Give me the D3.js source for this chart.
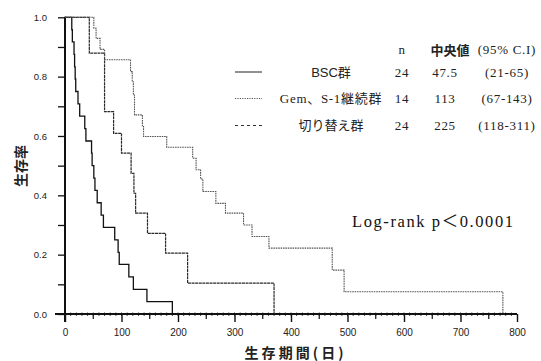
<!DOCTYPE html>
<html>
<head>
<meta charset="utf-8">
<script src="https://cdn.jsdelivr.net/npm/d3@7"></script>
<style>
  body { margin: 0; background: #fff; }
  svg { display: block; }
  .axis path, .axis line { stroke: #111; }
  .axis text { font-family: "Liberation Sans", Arial, sans-serif; font-size: 10px; fill: #222; }
</style>
</head>
<body>
<svg id="chart" width="541" height="361"></svg>
<script>
// Kaplan-Meier curves (day, survival after the drop)
var bscDays = [0, 12, 13, 16, 17, 18, 19, 23, 26, 35, 37, 47, 48, 51, 53, 57, 64, 68, 88, 94, 96, 113, 121, 145, 190];
var bscSurv = [1, 0.958, 0.917, 0.875, 0.833, 0.792, 0.75, 0.708, 0.667, 0.625, 0.583, 0.542, 0.5, 0.458, 0.417, 0.375, 0.333, 0.292, 0.25, 0.208, 0.167, 0.125, 0.083, 0.042, 0];

var gemDays = [0, 43, 70, 86, 100, 117, 122, 125, 146, 178, 217, 370];
var gemSurv = [1, 0.879, 0.682, 0.609, 0.542, 0.474, 0.407, 0.34, 0.272, 0.205, 0.104, 0];

var swDays = [0, 51, 55, 62, 70, 116, 119, 121, 123, 137, 139, 180, 226, 232, 240, 244, 267, 284, 316, 331, 361, 473, 494, 775];
var swSurv = [1, 0.963, 0.929, 0.892, 0.857, 0.817, 0.783, 0.738, 0.671, 0.632, 0.598, 0.562, 0.525, 0.486, 0.455, 0.413, 0.373, 0.34, 0.30, 0.261, 0.222, 0.148, 0.075, 0];

var groupNames = ["BSC群", "Gem、S-1継続群", "切り替え群"];
var groupN = ["24", "14", "24"];
var groupMedian = ["47.5", "113", "225"];
var groupCI = ["(21-65)", "(67-143)", "(118-311)"];

var xTicks = [0, 100, 200, 300, 400, 500, 600, 700, 800];
var yTicks = [0, 0.1, 0.2, 0.3, 0.4, 0.5, 0.6, 0.7, 0.8, 0.9, 1.0];

var svg = d3.select("#chart");

var x = d3.scaleLinear().domain([0, 800]).range([65, 517]);
var y = d3.scaleLinear().domain([0, 1]).range([314, 17.3]);

// x axis
var xAxis = svg.append("g")
    .attr("class", "axis")
    .attr("transform", "translate(0," + y(0) + ")");

xAxis.selectAll("line.micro")
    .data(d3.range(10, 800, 10))
  .enter().append("line")
    .attr("x1", x).attr("x2", x)
    .attr("y1", -1.5).attr("y2", 2)
    .attr("stroke-width", 0.8);

xAxis.call(d3.axisBottom(x).tickValues(xTicks).tickSize(8).tickSizeOuter(0).tickPadding(7));
xAxis.select(".domain").remove();
xAxis.selectAll(".tick line").attr("stroke-width", 1.4);

xAxis.selectAll("line.minor")
    .data(d3.range(50, 800, 100))
  .enter().append("line")
    .attr("x1", x).attr("x2", x)
    .attr("y1", 0).attr("y2", 5)
    .attr("stroke", "#111")
    .attr("stroke-width", 1.2);

xAxis.append("line")
    .attr("x1", 55).attr("x2", x(800))
    .attr("stroke", "#111")
    .attr("stroke-width", 2);

// y axis
var yAxis = svg.append("g")
    .attr("class", "axis")
    .attr("transform", "translate(" + x(0) + ",0)");

yAxis.call(d3.axisLeft(y).tickValues(yTicks).tickSize(7).tickSizeOuter(0).tickPadding(11)
    .tickFormat(function(d) { return Math.round(d * 10) % 2 == 0 ? d3.format(".1f")(d) : ""; }));
yAxis.select(".domain").remove();
yAxis.selectAll(".tick line").attr("stroke-width", 1.3);
yAxis.selectAll("text").style("font-size", "9.5px");

yAxis.append("line")
    .attr("y1", y(1) - 0.5).attr("y2", y(0) + 8)
    .attr("stroke", "#111")
    .attr("stroke-width", 2);

// axis titles
svg.append("text")
    .attr("x", 294).attr("y", 358)
    .attr("text-anchor", "middle")
    .attr("textLength", 99)
    .attr("lengthAdjust", "spacing")
    .style("font-family", "'Noto Sans CJK JP', sans-serif")
    .style("font-size", "14px")
    .style("font-weight", "bold")
    .style("fill", "#222")
    .text("生存期間(日)");

svg.append("text")
    .attr("transform", "translate(26,166) rotate(-90)")
    .attr("text-anchor", "middle")
    .style("font-family", "'Noto Sans CJK JP', sans-serif")
    .style("font-size", "14px")
    .style("font-weight", "bold")
    .style("fill", "#222")
    .text("生存率");

// curves
var line = d3.line()
    .x(function(d) { return x(d[0]); })
    .y(function(d) { return y(d[1]); })
    .curve(d3.curveStepAfter);

var curves = [
  { days: bscDays, surv: bscSurv, color: "#111", width: 1.3, dash: null },
  { days: gemDays, surv: gemSurv, color: "#2a2a2a", width: 1.2, dash: "3,0.6" },
  { days: swDays, surv: swSurv, color: "#555", width: 1.1, dash: "1.6,0.8" }
];

curves.forEach(function(c) {
  var pts = c.days.map(function(d, i) { return [d, c.surv[i]]; });
  svg.append("path")
      .datum(pts)
      .attr("d", line)
      .attr("fill", "none")
      .attr("stroke", c.color)
      .attr("stroke-width", c.width)
      .attr("stroke-dasharray", c.dash);
});

// legend table
var serif = "'Liberation Serif', 'Noto Sans CJK JP', serif";
var colX = { name: 331, n: 402, med: 445, ci: 507 };
var rowY = [75, 101.5, 128.5];

var header = svg.append("g").style("font-family", serif).style("font-size", "13px")
    .style("letter-spacing", "0.7px").style("fill", "#222");
header.append("text").attr("x", colX.n).attr("y", 54).attr("text-anchor", "middle").text("n");
header.append("text").attr("x", 450).attr("y", 55).attr("text-anchor", "middle")
    .style("font-family", "'Noto Sans CJK JP', sans-serif").style("font-weight", "bold")
    .style("letter-spacing", "0px")
    .text("中央値");
header.append("text").attr("x", colX.ci).attr("y", 54).attr("text-anchor", "middle").text("(95% C.I)");

var legendDash = [null, "1.2,1.2", "3,3"];
var legendColor = ["#222", "#555", "#333"];

var rows = svg.selectAll("g.row")
    .data(groupNames)
  .enter().append("g")
    .attr("class", "row")
    .style("font-family", serif)
    .style("font-size", "13px")
    .style("letter-spacing", "0.7px")
    .style("fill", "#222");

rows.append("line")
    .attr("x1", 235).attr("x2", 262)
    .attr("y1", function(d, i) { return rowY[i] - 3; })
    .attr("y2", function(d, i) { return rowY[i] - 3; })
    .attr("stroke", function(d, i) { return legendColor[i]; })
    .attr("stroke-width", 1)
    .attr("stroke-dasharray", function(d, i) { return legendDash[i]; });

rows.append("text")
    .attr("x", colX.name)
    .attr("y", function(d, i) { return rowY[i] + 1.5; })
    .attr("text-anchor", "middle")
    .style("font-family", function(d, i) { return i == 0 ? "'Liberation Sans', 'Noto Sans CJK JP', sans-serif" : serif; })
    .style("letter-spacing", function(d, i) { return i == 1 ? "0.7px" : "0px"; })
    .text(function(d) { return d; });

rows.append("text")
    .attr("x", colX.n)
    .attr("y", function(d, i) { return rowY[i] + 1.5; })
    .attr("text-anchor", "middle")
    .text(function(d, i) { return groupN[i]; });

rows.append("text")
    .attr("x", colX.med)
    .attr("y", function(d, i) { return rowY[i] + 1.5; })
    .attr("text-anchor", "middle")
    .text(function(d, i) { return groupMedian[i]; });

rows.append("text")
    .attr("x", colX.ci)
    .attr("y", function(d, i) { return rowY[i] + 1.5; })
    .attr("text-anchor", "middle")
    .text(function(d, i) { return groupCI[i]; });

// log-rank annotation
svg.append("text")
    .attr("x", 352).attr("y", 227)
    .attr("textLength", 161)
    .attr("lengthAdjust", "spacing")
    .style("font-family", serif)
    .style("font-size", "16.5px")
    .style("fill", "#111")
    .text("Log-rank  p＜0.0001");
</script>
</body>
</html>
